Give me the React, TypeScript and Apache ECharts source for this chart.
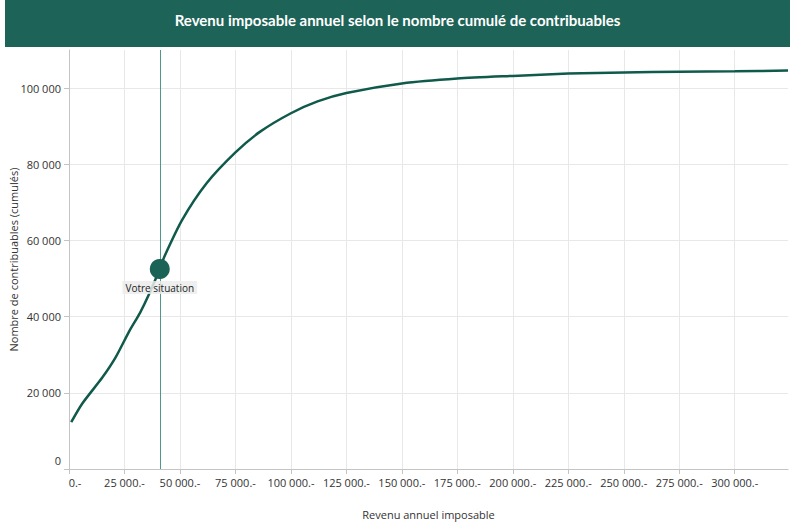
import React, { useEffect, useRef } from 'react';
import * as echarts from 'echarts';

const chartTitle = 'Revenu imposable annuel selon le nombre cumulé de contribuables';
const xAxisName = 'Revenu annuel imposable';
const yAxisName = 'Nombre de contribuables (cumulés)';
const situationLabel = 'Votre situation';
const medianLabel = 'Revenu médian : 40 900.-';

const incomes = [1000, 6000, 15000, 21000, 27000, 32000, 36000, 40900, 43000, 51000, 62000, 75000, 86000, 100000, 112000, 125000, 150000, 175000, 200000, 225000, 250000, 275000, 300000, 324000];
const cumulatedTaxpayers = [12300, 17200, 24000, 29300, 36000, 41000, 45800, 52500, 55800, 65400, 75000, 83100, 88500, 93400, 96500, 98700, 101200, 102500, 103200, 103800, 104100, 104300, 104400, 104600];

const medianIncome = 40900;
const yourSituation = [40900, 52500];

const xTickValues = [0, 25000, 50000, 75000, 100000, 125000, 150000, 175000, 200000, 225000, 250000, 275000, 300000];
const yTickValues = [0, 20000, 40000, 60000, 80000, 100000];

const fmt = (v: number) => String(Math.round(v)).replace(/\B(?=(\d{3})+(?!\d))/g, ' ');

export default function App() {
  const ref = useRef<HTMLDivElement>(null);
  useEffect(() => {
    if (!ref.current) return;
    const chart = echarts.init(ref.current, undefined, { renderer: 'svg' });
    const font = 'Open Sans';
    chart.setOption({
      animation: false,
      backgroundColor: '#ffffff',
      textStyle: { fontFamily: font },
      graphic: [
        {
          type: 'rect',
          shape: { x: 5, y: 0, width: 785, height: 47 },
          style: { fill: '#1d6357' },
          silent: true,
        },
      ],
      title: {
        text: chartTitle,
        left: 'center',
        top: 7,
        textStyle: { color: '#ffffff', fontSize: 15, fontWeight: 'bold', fontFamily: 'Lato' },
      },
      grid: { left: 69, right: 7, top: 50, bottom: 56, outerBoundsMode: 'none', containLabel: false },
      xAxis: {
        type: 'value',
        min: 0,
        max: 324000,
        interval: 25000,
        name: xAxisName,
        nameLocation: 'middle',
        nameGap: 40,
        nameMoveOverlap: false,
        nameTextStyle: { color: '#333', fontSize: 11, fontFamily: font },
        axisLine: { show: true, lineStyle: { color: '#c4c4c4' } },
        axisTick: { show: true, length: 5, customValues: xTickValues, lineStyle: { color: '#c4c4c4' } },
        axisLabel: {
          customValues: xTickValues,
          color: '#333',
          fontSize: 11,
          margin: 8,
          formatter: (v: number) => (v === 0 ? '{z|0.-}' : fmt(v) + '.-'),
          rich: { z: { padding: [0, 0, 0, 12], color: '#333', fontSize: 11, fontFamily: font } },
        },
        splitLine: { show: true, lineStyle: { color: '#e8e8e8' } },
      },
      yAxis: {
        type: 'value',
        min: 0,
        max: 110000,
        interval: 10000,
        name: yAxisName,
        nameLocation: 'middle',
        nameGap: 50,
        nameMoveOverlap: false,
        nameTextStyle: { color: '#333', fontSize: 11, fontFamily: font },
        axisLine: { show: true, lineStyle: { color: '#c4c4c4' } },
        axisTick: { show: true, length: 5, customValues: yTickValues, lineStyle: { color: '#c4c4c4' } },
        axisLabel: {
          customValues: yTickValues,
          color: '#333',
          fontSize: 11,
          margin: 8,
          formatter: (v: number) => (v === 0 ? '{z|0}' : fmt(v)),
          rich: { z: { padding: [0, 0, 18, 0], color: '#333', fontSize: 11, fontFamily: font } },
        },
        splitLine: { show: true, lineStyle: { color: '#e8e8e8' } },
      },
      series: [
        {
          type: 'line',
          data: incomes.map((x, i) => [x, cumulatedTaxpayers[i]]),
          smooth: 0.25,
          showSymbol: false,
          lineStyle: { color: '#0f5a4b', width: 2.5 },
          z: 3,
          markLine: {
            silent: true,
            symbol: ['none', 'none'],
            lineStyle: { color: '#4f978a', width: 1, type: 'solid' },
            label: { show: false },
            data: [{ xAxis: medianIncome }],
          },
        },
        {
          type: 'scatter',
          data: [yourSituation],
          symbolSize: 20,
          itemStyle: { color: '#1b6356', opacity: 1 },
          z: 5,
          label: {
            show: true,
            position: 'bottom',
            distance: 2,
            formatter: situationLabel,
            color: '#222',
            fontSize: 10,
            backgroundColor: 'rgba(236,236,236,0.85)',
            padding: [2, 3, 1, 3],
          },
        },
        {
          type: 'scatter',
          data: [[medianIncome, 0]],
          symbolSize: 1,
          itemStyle: { opacity: 0 },
          z: 4,
          label: {
            show: true,
            position: 'right',
            distance: 2,
            offset: [0, -8],
            formatter: medianLabel,
            color: '#1d6357',
            fontSize: 10.5,
          },
        },
      ],
    });
    return () => chart.dispose();
  }, []);
  return (
    <div
      ref={ref}
      style={{ position: 'absolute', left: 0, top: 0, width: 795, height: 525 }}
    />
  );
}
